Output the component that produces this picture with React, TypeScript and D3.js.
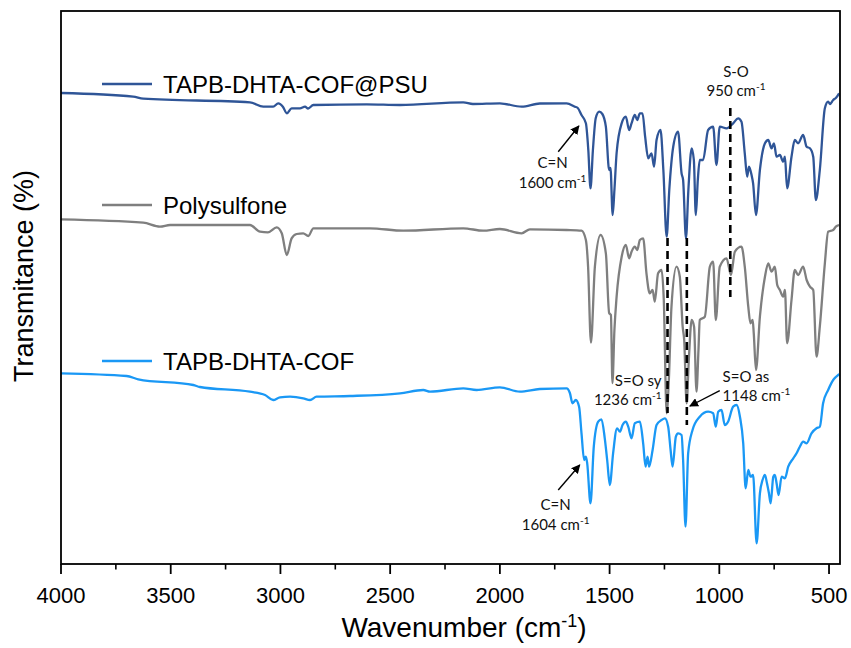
import React from "react";
import * as d3 from "d3";

// ---------- data (wavenumber cm-1, transmittance a.u. with vertical offset) ----------
const seriesNames = ["TAPB-DHTA-COF@PSU", "Polysulfone", "TAPB-DHTA-COF"];

const cofPsu: [number, number][] = [
  [4000, 471], [3671, 467.3], [3625, 465.3], [3139, 461.7], [3078, 457.3], [3033, 457.3],
  [3010, 460.7], [2988, 457], [2971, 450.7], [2949, 455.7], [2911, 455.7], [2888, 457.3],
  [2874, 455.5], [2850, 459], [2607, 459.7], [2455, 459], [2167, 461.7], [2123, 460],
  [2000, 460.7], [1901, 457.3], [1818, 460.5], [1696, 460.7], [1658, 457.3], [1645, 456],
  [1628, 449], [1608, 440.7], [1597, 414], [1587, 375.7], [1576, 414], [1563, 446],
  [1547, 452.3], [1533, 450], [1517, 437.3], [1502, 394], [1496, 396], [1486, 349],
  [1478, 374], [1468, 411], [1445, 440.7], [1426, 447.3], [1411, 434], [1400, 440.7],
  [1385, 449], [1374, 444], [1362, 450.7], [1350, 450.7], [1338, 427.3], [1324, 405.7],
  [1309, 410.7], [1297, 397.3], [1286, 424], [1268, 434], [1255, 394], [1240, 327.3],
  [1228, 374], [1210, 417.3], [1188, 432.3], [1172, 390.7], [1165, 384], [1152, 325.7],
  [1141, 374], [1126, 415.7], [1116, 404], [1107, 349], [1098, 384], [1089, 404],
  [1074, 404], [1051, 434], [1028, 437.3], [1013, 399], [998, 437.3], [967, 435.7],
  [937, 440.7], [914, 445.7], [899, 442.3], [884, 410.7], [873, 387.3], [865, 397.3],
  [853, 389], [846, 380.7], [833, 349], [815, 394], [792, 420.7], [777, 424],
  [762, 415.7], [751, 420.7], [739, 407.3], [724, 409], [709, 402.3], [701, 407.3],
  [691, 375.7], [671, 407.3], [656, 424], [641, 420.7], [618, 429], [602, 417.3],
  [587, 415.7], [572, 407.3], [560, 364], [542, 394], [519, 455.7], [504, 462.3],
  [496, 460], [481, 464], [469, 466], [454, 470.7],
];

const polysulfone: [number, number][] = [
  [4000, 344.7], [3625, 341.3], [3549, 337.3], [3503, 339], [3139, 339], [3093, 332.3],
  [3057, 331.7], [3017, 336.7], [2994, 330.7], [2971, 309], [2949, 325.7], [2926, 330],
  [2896, 330.7], [2873, 328], [2850, 335.7], [2592, 335.7], [2440, 333.3], [2167, 335.7],
  [2076, 333.3], [2000, 335], [1901, 330.7], [1863, 334.7], [1696, 334], [1628, 333.3],
  [1608, 324], [1598, 297.3], [1585, 221.3], [1567, 297.3], [1541, 329], [1517, 310.7],
  [1502, 251], [1494, 249], [1487, 181], [1478, 234], [1468, 267.3], [1445, 307.3],
  [1426, 319], [1411, 305.7], [1400, 312.3], [1385, 317.3], [1374, 314], [1362, 324],
  [1347, 325.7], [1332, 290.7], [1317, 270.7], [1304, 274], [1294, 262.3], [1279, 290.7],
  [1263, 294], [1253, 264], [1240, 150.7], [1230, 184], [1218, 257.3], [1195, 297.3],
  [1180, 287.3], [1167, 237.3], [1160, 224], [1149, 160.7], [1139, 204], [1126, 244],
  [1115, 237.3], [1104, 172.3], [1095, 214], [1089, 244], [1066, 247.3], [1043, 297.3],
  [1028, 302.3], [1016, 244], [998, 297.3], [967, 305.7], [947, 289], [929, 312.3],
  [899, 317.3], [884, 297.3], [868, 257.3], [858, 240.7], [848, 244], [843, 230.7],
  [833, 194], [815, 247.3], [792, 287.3], [777, 300.7], [762, 292.3], [747, 297.3],
  [736, 279], [724, 274], [709, 267.3], [701, 274], [691, 220.7], [671, 264],
  [656, 294], [641, 289], [618, 297.3], [602, 284], [587, 277.3], [572, 274],
  [557, 207.3], [542, 237.3], [519, 300.7], [504, 332.3], [481, 334], [469, 337.3],
  [454, 339],
];

const cof: [number, number][] = [
  [4000, 190.7], [3701, 188], [3648, 184.7], [3397, 179], [3367, 177], [3139, 172.3],
  [3070, 169], [3033, 164], [3002, 166.7], [2956, 167.3], [2896, 165.7], [2865, 164],
  [2835, 167.3], [2683, 168], [2455, 170.7], [2349, 174], [2318, 172.3], [2167, 175.7],
  [2106, 174], [2000, 176.7], [1909, 172.3], [1818, 175], [1696, 175.7], [1681, 171],
  [1669, 160.7], [1654, 164], [1639, 157.3], [1628, 130.7], [1616, 104], [1608, 107.3],
  [1602, 100.7], [1587, 60.7], [1572, 117.3], [1552, 142.3], [1537, 144.7], [1522, 125.7],
  [1511, 104], [1499, 79], [1484, 110.7], [1466, 135.7], [1453, 132.3], [1441, 139],
  [1426, 142.3], [1415, 137.3], [1400, 125.7], [1385, 140.7], [1362, 142.3], [1347, 120.7],
  [1336, 97.3], [1327, 107.3], [1320, 97.3], [1304, 114], [1286, 139], [1263, 144],
  [1248, 145.7], [1233, 137.3], [1222, 114], [1213, 97.3], [1198, 127.3], [1188, 130.7],
  [1172, 129], [1165, 104], [1154, 37.3], [1142, 110.7], [1122, 134], [1089, 147.3],
  [1051, 152.3], [1028, 150.7], [1016, 137.3], [1005, 152.3], [990, 154], [975, 139],
  [960, 142.3], [937, 157.3], [921, 159], [906, 147.3], [891, 120.7], [880, 75.7],
  [868, 94], [858, 87.3], [846, 89], [830, 20.7], [815, 70.7], [803, 84],
  [792, 89], [783, 81], [774, 71], [766, 60.7], [754, 87.3], [747, 89],
  [739, 80.7], [730, 69], [716, 87.3], [701, 85.7], [686, 97.3], [663, 105.7],
  [648, 110.7], [633, 117.3], [618, 122.3], [602, 120.7], [580, 130.7], [557, 135.7],
  [542, 137.3], [527, 160.7], [504, 174], [481, 184], [469, 187], [454, 190],
];

const xTickValues = [4000, 3500, 3000, 2500, 2000, 1500, 1000, 500];
const xMinorValues = [3750, 3250, 2750, 2250, 1750, 1250, 750];

// dashed marker lines: [wavenumber, yTop, yBottom]
const markerLines: [number, number, number][] = [
  [950, 456, 267],
  [1236, 326, 151],
  [1148, 326, 139],
];

// annotation labels
const annotations: { x: number; y: number; name: string; wn: string; anchor: string }[] = [
  { x: 1760, y: 396, name: "C=N", wn: "1600", anchor: "middle" },
  { x: 924, y: 487.5, name: "S-O", wn: "950", anchor: "middle" },
  { x: 1263, y: 178.5, name: "S=O sy", wn: "1236", anchor: "end" },
  { x: 985, y: 182.3, name: "S=O as", wn: "1148", anchor: "start" },
  { x: 1746, y: 54, name: "C=N", wn: "1604", anchor: "middle" },
];

// arrows: [fromWn, fromVal, toWn, toVal]
const arrows: [number, number, number, number][] = [
  [1734, 412.3, 1640, 438],
  [998, 173.3, 1134, 158],
  [1734, 74, 1636, 99],
];

const colors = ["#2F5597", "#7F7F7F", "#1A98F5"];

export default function App() {
  const W = 851, H = 648;
  const left = 61, right = 840, top = 11, bottom = 564;
  const x = d3.scaleLinear().domain([4000, 450]).range([left, right]);
  const y = d3.scaleLinear().domain([0, 553]).range([bottom, top]);
  const line = d3
    .line<[number, number]>()
    .x((d) => x(d[0]))
    .y((d) => y(d[1]))
    .curve(d3.curveMonotoneX);
  const series = [cofPsu, polysulfone, cof];
  const legendY = [84, 205, 361];
  const font = "Arial, 'Liberation Sans', sans-serif";
  const annFont = "Lato, 'Open Sans', sans-serif";

  return (
    <svg
      width={W}
      height={H}
      style={{ position: "absolute", left: 0, top: 0, background: "#fff" }}
    >
      <defs>
        <marker id="arr" viewBox="0 0 10 10" refX="9" refY="5" markerWidth="9" markerHeight="9" orient="auto" markerUnits="userSpaceOnUse">
          <path d="M0,0 L10,5 L0,10 z" fill="#000" />
        </marker>
      </defs>
      <rect x={0} y={0} width={W} height={H} fill="#fff" />
      {series.map((s, i) => (
        <path key={i} d={line(s) || ""} fill="none" stroke={colors[i]} strokeWidth={2.3} strokeLinejoin="round" />
      ))}
      {markerLines.map((m, i) => (
        <line key={i} x1={x(m[0])} x2={x(m[0])} y1={y(m[1])} y2={y(m[2])} stroke="#000" strokeWidth={2.6} strokeDasharray="8,5" />
      ))}
      {arrows.map((a, i) => (
        <line key={i} x1={x(a[0])} y1={y(a[1])} x2={x(a[2])} y2={y(a[3])} stroke="#000" strokeWidth={1.4} markerEnd="url(#arr)" />
      ))}
      {annotations.map((a, i) => (
        <g key={i} fontFamily={annFont} fontSize={15} fill="#111">
          <text x={x(a.x)} y={y(a.y)} textAnchor={a.anchor}>{a.name}</text>
          <text x={x(a.x)} y={y(a.y) + 19.5} textAnchor={a.anchor}>
            {a.wn} cm<tspan fontSize={10} dy={-6}>-1</tspan>
          </text>
        </g>
      ))}
      {seriesNames.map((n, i) => (
        <g key={n}>
          <line x1={102} x2={152} y1={legendY[i]} y2={legendY[i]} stroke={colors[i]} strokeWidth={2.3} />
          <text x={163} y={legendY[i] + 9} fontFamily={font} fontSize={24} fill="#000">{n}</text>
        </g>
      ))}
      <rect x={left} y={top} width={right - left} height={bottom - top} fill="none" stroke="#000" strokeWidth={1.8} />
      {xTickValues.map((t) => (
        <g key={t}>
          <line x1={x(t)} x2={x(t)} y1={bottom} y2={bottom + 10} stroke="#000" strokeWidth={1.8} />
          <text x={x(t)} y={603} textAnchor="middle" fontFamily={font} fontSize={22} fill="#000">{t}</text>
        </g>
      ))}
      {xMinorValues.map((t) => (
        <line key={t} x1={x(t)} x2={x(t)} y1={bottom} y2={bottom + 5.5} stroke="#000" strokeWidth={1.6} />
      ))}
      <text x={464} y={637} textAnchor="middle" fontFamily={font} fontSize={28} fill="#000">
        Wavenumber (cm<tspan fontSize={18} dy={-10}>-1</tspan><tspan dy={10}>)</tspan>
      </text>
      <text transform={`translate(33,276) rotate(-90)`} textAnchor="middle" fontFamily={font} fontSize={27} fill="#000">
        Transmitance (%)
      </text>
    </svg>
  );
}
